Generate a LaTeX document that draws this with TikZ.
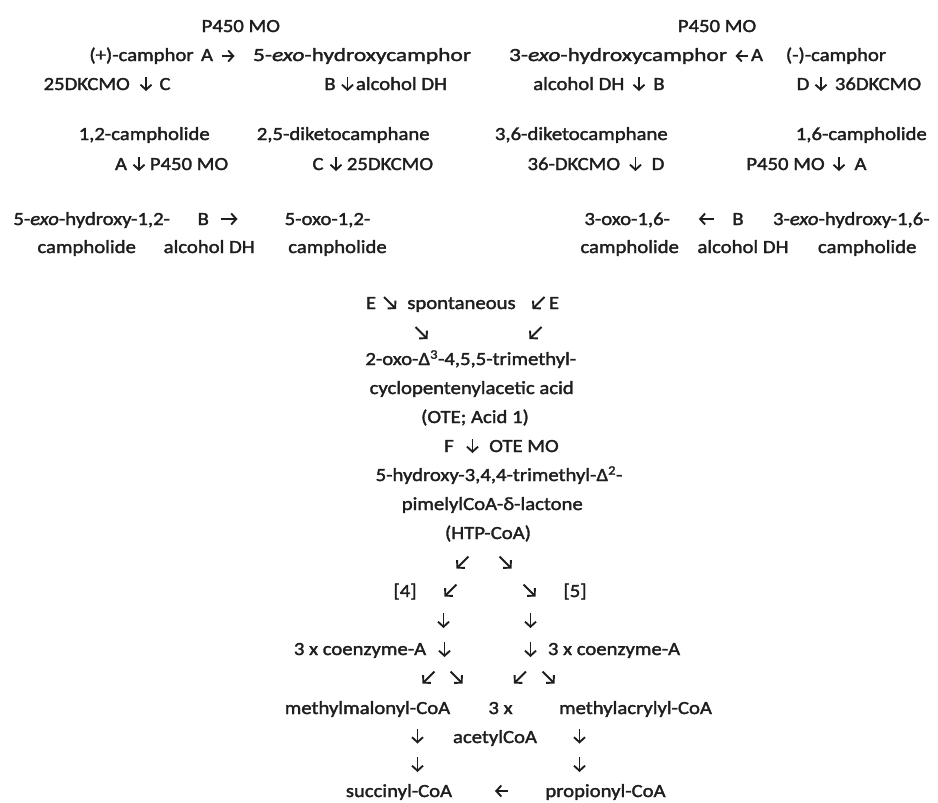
\documentclass[tikz,border=0pt]{standalone}
\usepackage{fontspec}
\setmainfont{Carlito}[FakeStretch=1.12,FakeBold=1.8]
\usetikzlibrary{arrows.meta,calc}
\definecolor{ink}{HTML}{1E1E1E}
\tikzset{
  t/.style={anchor=base,inner sep=0pt,outer sep=0pt,text=ink,font=\fontsize{18.5}{22}\selectfont},
  arr/.style={draw=ink,line width=1.9pt,-{Straight Barb[length=5pt,width=11pt]}}
}
\newcommand\myarrow[5]{\coordinate (#1) at (#2,#3); \draw[arr] ($(#1)-0.5*(#4,#5)$) -- ($(#1)+0.5*(#4,#5)$);}
\newcommand\widetext[1]{\scalebox{1.13}[1]{#1}}
\begin{document}
\begin{tikzpicture}[x=1pt,y=-1pt]
\useasboundingbox[fill=white] (0,0) rectangle (938,803);
% row 1
\node[t] (p450L) at (240.8,32) {P450 MO};
\node[t] (p450R) at (717,32) {P450 MO};
% row 2
\node[t] (campP) at (141.5,61) {(+)-camphor};
\node[t] (A1) at (207,61) {A};
\myarrow{a1}{228}{56}{13}{0}
\node[t] (hc5) at (362,61) {\widetext{5-\textit{exo}-hydroxycamphor}};
\node[t] (hc3) at (618,61) {\widetext{3-\textit{exo}-hydroxycamphor}};
\myarrow{a2}{741.5}{56}{-12}{0}
\node[t] (A2) at (757,61) {A};
\node[t] (campM) at (836,61) {(-)-camphor};
% row 3
\node[t] (k25a) at (86.7,90) {25DKCMO};
\myarrow{a3}{146}{84}{0}{14}
\node[t] (C1) at (165,90) {C};
\node[t] (B1) at (330,90) {B};
\myarrow{a4}{347.5}{84}{0}{14}
\node[t] (adh1) at (401.5,90) {alcohol DH};
\node[t] (adh2) at (578.8,90) {alcohol DH};
\myarrow{a5}{639}{84}{0}{14}
\node[t] (B2) at (659,90) {B};
\node[t] (D1) at (803,90) {D};
\myarrow{a6}{821}{84}{0}{14}
\node[t] (k36a) at (878,90) {36DKCMO};
% row 4
\node[t] (cl12) at (144.2,140) {1,2-campholide};
\node[t] (dk25) at (343.2,140) {2,5-diketocamphane};
\node[t] (dk36) at (581.3,140) {3,6-diketocamphane};
\node[t] (cl16) at (861.3,140) {1,6-campholide};
% row 5
\node[t] (A3) at (121,170) {A};
\myarrow{a7}{139}{164}{0}{14}
\node[t] (p450c) at (189,170) {P450 MO};
\node[t] (C2) at (318,170) {C};
\myarrow{a8}{336}{164}{0}{14}
\node[t] (k25b) at (390,170) {25DKCMO};
\node[t] (k36b) at (573.8,170) {36-DKCMO};
\myarrow{a9}{635.5}{164}{0}{14}
\node[t] (D2) at (658,170) {D};
\node[t] (p450d) at (785.5,170) {P450 MO};
\myarrow{a10}{839}{164}{0}{14}
\node[t] (A4) at (860.5,170) {A};
% row 6
\node[t] (hx12) at (91.7,225) {5-\textit{exo}-hydroxy-1,2-};
\node[t] (B3) at (203.3,225) {B};
\myarrow{a11}{229}{219}{17}{0}
\node[t] (ox12) at (327.5,225) {5-oxo-1,2-};
\node[t] (ox16) at (627.2,225) {3-oxo-1,6-};
\myarrow{a12}{706.3}{219}{-15}{0}
\node[t] (B4) at (738,225) {B};
\node[t] (hx16) at (851.3,225) {3-\textit{exo}-hydroxy-1,6-};
% row 7
\node[t] (cp1) at (86.7,253) {campholide};
\node[t] (adh3) at (209.2,253) {alcohol DH};
\node[t] (cp2) at (337.5,253) {campholide};
\node[t] (cp3) at (629.7,253) {campholide};
\node[t] (adh4) at (743,253) {alcohol DH};
\node[t] (cp4) at (867.2,253) {campholide};
% E spontaneous
\node[t] (E1) at (371,309) {E};
\myarrow{a13}{390}{303}{12}{12}
\node[t] (spont) at (461.5,309) {spontaneous};
\myarrow{a14}{538.5}{303}{-12}{12}
\node[t] (E2) at (554,309) {E};
\myarrow{a15}{421.5}{333}{12}{12}
\myarrow{a16}{535.5}{333}{-12}{12}
% central block
\node[t] (ote1) at (470.8,365) {2-oxo-Δ\textsuperscript{3}-4,5,5-trimethyl-};
\node[t] (ote2) at (471.7,394) {cyclopentenylacetic acid};
\node[t] (ote3) at (475,423) {(OTE; Acid 1)};
\node[t] (F) at (449,452) {F};
\myarrow{a17}{472.5}{446}{0}{14}
\node[t] (otemo) at (524,452) {OTE MO};
\node[t] (htp1) at (499,481) {5-hydroxy-3,4,4-trimethyl-Δ\textsuperscript{2}-};
\node[t] (htp2) at (492.3,510) {pimelylCoA-δ-lactone};
\node[t] (htp3) at (488,539) {(HTP-CoA)};
\myarrow{a18}{462.5}{562.5}{-12}{12}
\myarrow{a19}{505.5}{562.5}{12}{12}
% lower block
\node[t] (r4) at (405,597) {[4]};
\myarrow{a20}{450.5}{590.5}{-12}{12}
\myarrow{a21}{529.5}{590.5}{12}{12}
\node[t] (r5) at (575,597) {[5]};
\myarrow{a22}{443.5}{620.5}{0}{15}
\myarrow{a23}{530.5}{620.5}{0}{15}
\node[t] (coaL) at (360,655) {3 x coenzyme-A};
\myarrow{a24}{444.5}{649.5}{0}{15}
\myarrow{a25}{530.5}{649.5}{0}{15}
\node[t] (coaR) at (614,655) {3 x coenzyme-A};
\myarrow{a26}{428.5}{677.5}{-12}{12}
\myarrow{a27}{456.5}{677.5}{12}{12}
\myarrow{a28}{520}{677.5}{-12}{12}
\myarrow{a29}{548.5}{677.5}{12}{12}
\node[t] (mmcoa) at (367.5,714) {methylmalonyl-CoA};
\node[t] (three) at (500.5,714) {3 x};
\node[t] (macoa) at (635.5,714) {methylacrylyl-CoA};
\myarrow{a30}{417.5}{736}{0}{15}
\node[t] (acoa) at (495,743) {acetylCoA};
\myarrow{a31}{579.5}{736}{0}{15}
\myarrow{a32}{417.5}{764.5}{0}{15}
\myarrow{a33}{579.5}{764.5}{0}{15}
\node[t] (scoa) at (399,797) {succinyl-CoA};
\myarrow{a34}{501.5}{791}{-13}{0}
\node[t] (pcoa) at (605.5,797) {propionyl-CoA};
\end{tikzpicture}
\end{document}
